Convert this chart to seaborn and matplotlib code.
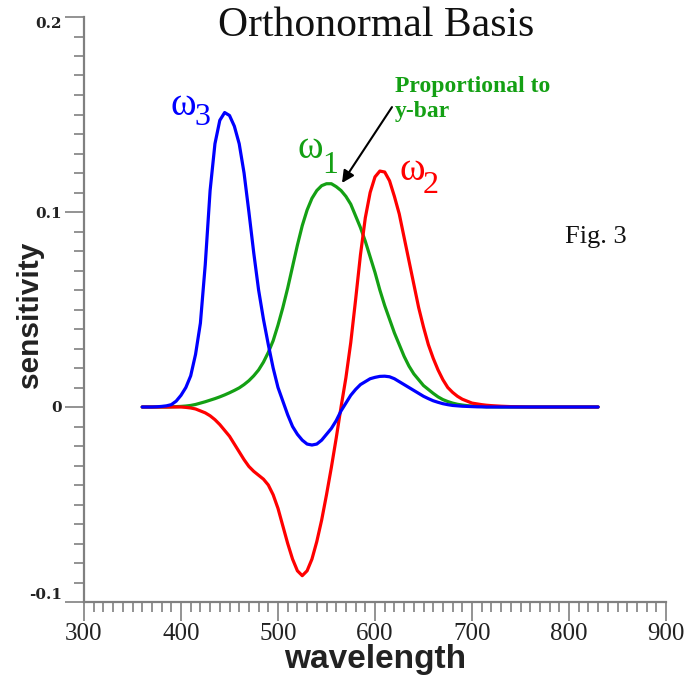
import matplotlib
matplotlib.use("Agg")
import matplotlib.pyplot as plt
from matplotlib.ticker import MultipleLocator, FixedLocator
import numpy as np
import pandas as pd
import seaborn as sns

# Wavelength samples (nm)
wavelength = [
    360, 365, 370, 375, 380, 385, 390, 395, 400, 405,
    410, 415, 420, 425, 430, 435, 440, 445, 450, 455,
    460, 465, 470, 475, 480, 485, 490, 495, 500, 505,
    510, 515, 520, 525, 530, 535, 540, 545, 550, 555,
    560, 565, 570, 575, 580, 585, 590, 595, 600, 605,
    610, 615, 620, 625, 630, 635, 640, 645, 650, 655,
    660, 665, 670, 675, 680, 685, 690, 695, 700, 705,
    710, 715, 720, 730, 740, 750, 760, 770, 780, 790, 800, 810, 820, 830,
]

# omega_1 (proportional to y-bar)
omega1 = [
    0, 0, 0, 0, 0, 0, 0.0001, 0.0002, 0.0003, 0.0005,
    0.0008, 0.0013, 0.002, 0.0027, 0.0035, 0.0043, 0.0052, 0.0062, 0.0073, 0.0085,
    0.0098, 0.0115, 0.0135, 0.016, 0.019, 0.023, 0.028, 0.034, 0.042, 0.051,
    0.061, 0.072, 0.083, 0.093, 0.101, 0.107, 0.111, 0.1135, 0.1145, 0.1145,
    0.113, 0.111, 0.108, 0.104, 0.098, 0.092, 0.085, 0.077, 0.069, 0.060,
    0.052, 0.045, 0.038, 0.032, 0.026, 0.021, 0.017, 0.014, 0.011, 0.009,
    0.007, 0.0052, 0.0038, 0.0028, 0.002, 0.0014, 0.001, 0.0007, 0.0005, 0.0003,
    0.0002, 0.0001, 0.0001, 0, 0, 0, 0, 0, 0, 0, 0, 0, 0, 0,
]

# omega_2
omega2 = [
    0, 0, 0, 0, 0, 0, 0, 0, 0, -0.0002,
    -0.0005, -0.001, -0.002, -0.003, -0.0045, -0.0065, -0.009, -0.012, -0.015, -0.019,
    -0.023, -0.027, -0.0305, -0.033, -0.035, -0.037, -0.040, -0.045, -0.052, -0.061,
    -0.070, -0.078, -0.084, -0.0865, -0.084, -0.078, -0.069, -0.058, -0.045, -0.031,
    -0.016, 0.000, 0.015, 0.033, 0.055, 0.078, 0.097, 0.110, 0.118, 0.121,
    0.1205, 0.116, 0.108, 0.099, 0.087, 0.075, 0.063, 0.051, 0.041, 0.032,
    0.025, 0.019, 0.014, 0.010, 0.0075, 0.0055, 0.004, 0.003, 0.002, 0.0016,
    0.0012, 0.0009, 0.0007, 0.0004, 0.0002, 0.0001, 0, 0, 0, 0, 0, 0, 0, 0,
]

# omega_3
omega3 = [
    0, 0, 0, 0.0001, 0.0003, 0.0006, 0.0012, 0.003, 0.006, 0.010,
    0.016, 0.027, 0.043, 0.073, 0.111, 0.135, 0.147, 0.151, 0.1495, 0.144,
    0.135, 0.120, 0.100, 0.079, 0.060, 0.045, 0.032, 0.020, 0.010, 0.003,
    -0.004, -0.010, -0.014, -0.017, -0.019, -0.0195, -0.019, -0.017, -0.014, -0.011,
    -0.007, -0.002, 0.002, 0.006, 0.009, 0.0115, 0.013, 0.0145, 0.0152, 0.0157,
    0.0158, 0.0155, 0.0145, 0.013, 0.0115, 0.010, 0.0085, 0.007, 0.0055, 0.0043,
    0.0032, 0.0024, 0.0017, 0.0012, 0.0008, 0.0006, 0.0004, 0.0003, 0.0002, 0.0001,
    0.0001, 0, 0, 0, 0, 0, 0, 0, 0, 0, 0, 0, 0, 0,
]

basis_names = ["ω1", "ω2", "ω3"]
basis_subscripts = ["1", "2", "3"]
GREEN, RED, BLUE = "#14a014", "#ff0000", "#0000ff"
palette = [GREEN, RED, BLUE]

x_ticks = [300, 400, 500, 600, 700, 800, 900]
y_ticks = [-0.1, 0, 0.1, 0.2]
y_ticklabels = ["-0.1", "0", "0.1", "0.2"]

sns.set_style("white")
plt.rcParams["font.family"] = ["Liberation Serif", "DejaVu Serif"]

df = pd.concat(
    [
        pd.DataFrame({"wavelength": wavelength, "sensitivity": vals, "basis": name})
        for name, vals in zip(basis_names, [omega1, omega2, omega3])
    ],
    ignore_index=True,
)

fig = plt.figure(figsize=(6.86, 6.75), dpi=100)
ax = fig.add_axes([84 / 686, 1 - 602 / 675, 582 / 686, 585 / 675])

sns.lineplot(
    data=df, x="wavelength", y="sensitivity", hue="basis",
    hue_order=basis_names, palette=palette, linewidth=2.3,
    legend=False, ax=ax, sort=False,
)
ax.set_xlabel("")
ax.set_ylabel("")

ax.set_xlim(300, 900)
ax.set_ylim(-0.1, 0.2)

# axes frame: only left and bottom, gray
for side in ["top", "right"]:
    ax.spines[side].set_visible(False)
for side in ["left", "bottom"]:
    ax.spines[side].set_color("#808080")
    ax.spines[side].set_linewidth(1.6)

ax.xaxis.set_major_locator(FixedLocator(x_ticks))
ax.xaxis.set_minor_locator(MultipleLocator(10))
ax.yaxis.set_major_locator(FixedLocator(y_ticks))
ax.yaxis.set_minor_locator(MultipleLocator(0.01))
ax.set_xticklabels([str(v) for v in x_ticks])
ax.set_yticklabels(y_ticklabels)

ax.tick_params(axis="both", which="both", bottom=True, left=True,
               top=False, right=False)
ax.tick_params(axis="both", which="major", direction="out", length=14,
               width=1.2, color="#808080")
ax.tick_params(axis="both", which="minor", direction="out", length=7.5,
               width=1.2, color="#808080")
ax.tick_params(axis="x", which="major", labelsize=18, pad=1, labelcolor="#222222")
ax.tick_params(axis="y", which="major", pad=2, labelcolor="#222222")
for lab in ax.get_yticklabels():
    lab.set_fontfamily("DejaVu Serif")
    lab.set_fontweight("bold")
    lab.set_fontsize(11)
ylabs = ax.get_yticklabels()
ylabs[-1].set_va("top")
ylabs[0].set_va("bottom")

# axis titles
fig.text(375 / 686, 1 - 668 / 675, "wavelength", fontfamily="Liberation Sans",
         fontweight="bold", fontsize=24, ha="center", va="baseline",
         color="#222222")
fig.text(30 / 686, 1 - 315 / 675, "sensitivity", fontfamily="Liberation Sans",
         fontweight="bold", fontsize=21.5, ha="center", va="center",
         rotation=90, color="#222222")

fig.text(376 / 686, 1 - 36 / 675, "Orthonormal Basis", fontsize=30,
         ha="center", va="baseline", color="#111111")

# curve labels: omega with subscript
label_pos = {
    "ω3": ((389.0, 0.1497), (414.0, 0.1446), BLUE),
    "ω1": ((520.0, 0.1277), (546.0, 0.1200), GREEN),
    "ω2": ((625.0, 0.1164), (649.0, 0.1097), RED),
}
for name, sub in zip(basis_names, basis_subscripts):
    (wx, wy), (sx, sy), col = label_pos[name]
    ax.text(wx, wy, "ω", color=col, fontsize=28, ha="left", va="baseline")
    ax.text(sx, sy, sub, color=col, fontsize=23, ha="left", va="baseline")

ax.text(620.6, 0.1615, "Proportional to", color=GREEN, fontsize=17,
        fontweight="bold", ha="left", va="baseline")
ax.text(620.6, 0.1487, "y-bar", color=GREEN, fontsize=17,
        fontweight="bold", ha="left", va="baseline")
ax.annotate("", xy=(566, 0.1149), xytext=(617.5, 0.1538),
            arrowprops=dict(arrowstyle="-|>", color="black", lw=1.5,
                            mutation_scale=18, shrinkA=0, shrinkB=0))

ax.text(0.826, 0.614, "Fig. 3", transform=ax.transAxes, fontsize=19,
        ha="left", va="baseline", color="#111111")

fig.savefig("out.png", dpi=100)
